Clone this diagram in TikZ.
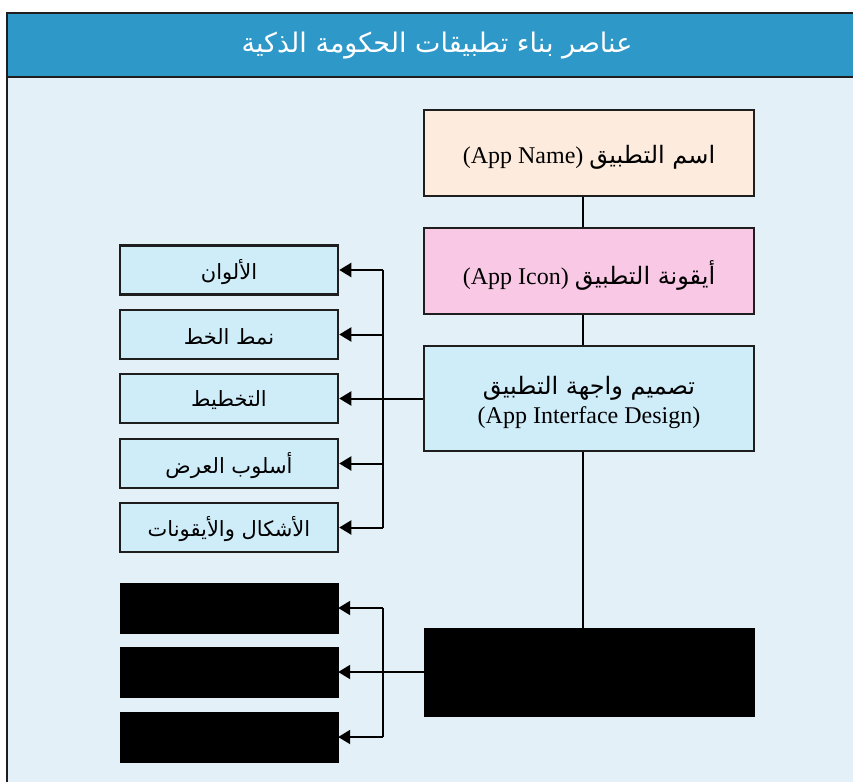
\documentclass[tikz,border=0pt]{standalone}
\usepackage{fontspec}
\setmainfont{Liberation Serif}
\newfontfamily\arabicfont[Script=Arabic]{DejaVu Sans}
\TeXXeTstate=1
\usetikzlibrary{arrows.meta}
\definecolor{hdr}{HTML}{2E98C9}
\definecolor{bodybg}{HTML}{E3F0F7}
\definecolor{peach}{HTML}{FDEBDD}
\definecolor{pink}{HTML}{F8C8E4}
\definecolor{lblue}{HTML}{CFECF9}
\definecolor{frame}{HTML}{1E1E1E}
\newcommand{\ar}[1]{{\arabicfont\beginR #1\endR}}
\newcommand{\lowertext}[2]{\raisebox{0pt}[\dimexpr\height+#1\relax][\depth]{#2}}
\tikzset{
  mainbox/.style={draw=frame, line width=2.5pt, minimum width=330pt, inner sep=0pt, align=center, font=\fontsize{24}{30}\selectfont},
  subbox/.style={draw=frame, line width=2.5pt, fill=lblue, minimum width=218pt, minimum height=49pt, inner sep=0pt, font=\fontsize{21}{24}\selectfont},
  blackbox/.style={draw=black, fill=black, inner sep=0pt},
  conn/.style={draw=black, line width=2pt},
  arr/.style={conn, -{Triangle[length=12pt,width=14pt]}}
}
\begin{document}
\begin{tikzpicture}[x=1pt,y=-1pt]
\useasboundingbox (0,0) rectangle (853,781);
\clip (0,0) rectangle (853,781);
\fill[white] (0,0) rectangle (853,781);
% frame
\draw[frame, line width=2pt, fill=bodybg] (7,77) rectangle (880,820);
\draw[frame, line width=2pt, fill=hdr] (7,13) rectangle (880,77);
\node[text=white, font=\fontsize{27}{32}\selectfont] (title) at (437,46) {\ar{عناصر بناء تطبيقات الحكومة الذكية}};
% main column
\node[mainbox, fill=peach, minimum height=86pt] (appname) at (589,153) {\lowertext{8pt}{(App Name) \ar{اسم التطبيق}}};
\node[mainbox, fill=pink, minimum height=86pt] (appicon) at (589,271) {\lowertext{8pt}{(App Icon) \ar{أيقونة التطبيق}}};
\node[mainbox, fill=lblue, minimum height=105pt] (iface) at (589,398.5) {\lowertext{8pt}{\begin{tabular}{@{}c@{}}\ar{تصميم واجهة التطبيق}\\[-1pt](App Interface Design)\end{tabular}}};
\node[blackbox, minimum width=330pt, minimum height=88pt] (hidden) at (589,672) {};
% sub boxes
\node[subbox] (b1) at (229,270) {\lowertext{4pt}{\ar{الألوان}}};
\node[subbox] (b2) at (229,334.5) {\lowertext{4pt}{\ar{نمط الخط}}};
\node[subbox] (b3) at (229,398.5) {\lowertext{4pt}{\ar{التخطيط}}};
\node[subbox] (b4) at (229,463.5) {\lowertext{4pt}{\ar{أسلوب العرض}}};
\node[subbox] (b5) at (229,527.5) {\lowertext{4pt}{\ar{الأشكال والأيقونات}}};
\node[blackbox, minimum width=218pt, minimum height=50pt] (c1) at (229,608) {};
\node[blackbox, minimum width=218pt, minimum height=50pt] (c2) at (229,672) {};
\node[blackbox, minimum width=218pt, minimum height=50pt] (c3) at (229,737) {};
\coordinate (t) at (383,0);
% vertical spine
\draw[conn] ([xshift=-6pt]appname.south) -- ([xshift=-6pt]appicon.north);
\draw[conn] ([xshift=-6pt]appicon.south) -- ([xshift=-6pt]iface.north);
\draw[conn] ([xshift=-6pt]iface.south) -- ([xshift=-6pt]hidden.north);
% upper branch
\draw[conn] (iface.west) -- (t |- iface.west);
\draw[conn] (t |- b1.east) -- (t |- b5.east);
\foreach \b in {b1,b2,b3,b4,b5} \draw[arr] (t |- \b.east) -- (\b.east);
% lower branch
\draw[conn] (hidden.west) -- (t |- hidden.west);
\draw[conn] (t |- c1.east) -- (t |- c3.east);
\foreach \b in {c1,c2,c3} \draw[arr] (t |- \b.east) -- (\b.east);
\end{tikzpicture}
\end{document}
